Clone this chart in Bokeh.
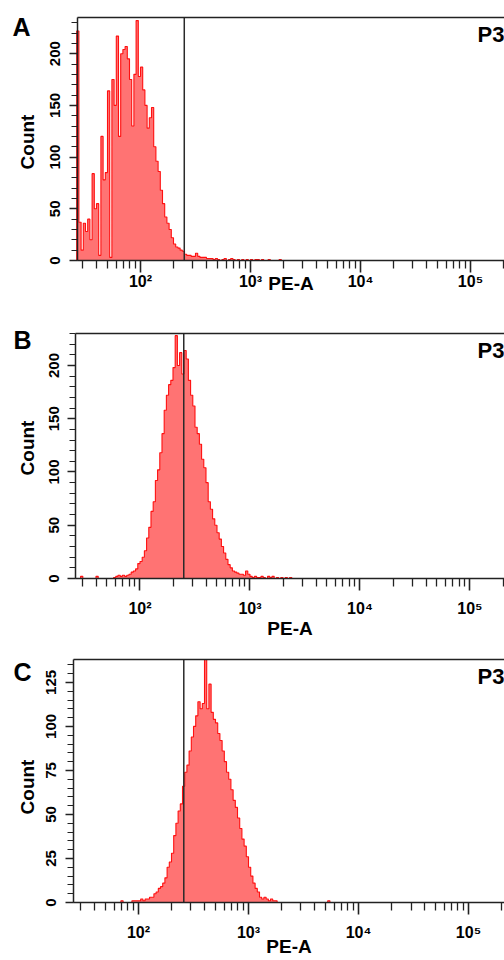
import numpy as np
from math import pi
from bokeh.plotting import figure
from bokeh.models import Range1d, FixedTicker, Label
from bokeh.layouts import column
from bokeh.embed import file_html
from bokeh.resources import INLINE

# ---------------- data ----------------
panel_letters = ["A", "B", "C"]
gate_name = "P3"
x_label = "PE-A"
y_label = "Count"

x_tick_values = [100, 1000, 10000, 100000]
x_tick_labels = ["10²", "10³", "10⁴", "10⁵"]
x_minor_ticks = [30, 40, 50, 60, 70, 80, 90,
                 200, 300, 400, 500, 600, 700, 800, 900,
                 2000, 3000, 4000, 5000, 6000, 7000, 8000, 9000,
                 20000, 30000, 40000, 50000, 60000, 70000, 80000, 90000,
                 200000]

# histogram bins: log10 start and log10 width of each bin
bin_log_start = 1.42
bin_log_step = 0.02

counts_a = [222, 37, 10, 36, 28, 40, 20, 84, 50, 55,
            5, 120, 78, 85, 164, 3, 175, 150, 217, 120,
            200, 204, 207, 195, 175, 130, 180, 232, 178, 187,
            165, 150, 128, 138, 148, 110, 96, 86, 68, 55,
            42, 36, 30, 22, 16, 13, 12, 10, 9, 6,
            5, 5, 4, 4, 7, 4, 3, 3, 3, 2,
            2, 2, 1, 2, 1, 0, 1, 2, 0, 1,
            2, 1, 0, 1, 0, 1, 0, 1, 0, 1,
            0, 1, 1, 0, 1, 0, 0, 1, 0, 0,
            0, 0, 1]

counts_b = [0, 0, 2, 0, 0, 0, 0, 0, 0, 2,
            0, 0, 0, 0, 0, 0, 0, 1, 2, 3,
            2, 3, 2, 3, 4, 6, 7, 9, 14, 16,
            20, 26, 38, 48, 63, 72, 92, 102, 118, 136,
            158, 172, 182, 186, 198, 228, 200, 212, 192, 214,
            206, 186, 172, 162, 142, 136, 126, 112, 104, 90,
            72, 65, 56, 50, 43, 37, 30, 24, 18, 13,
            10, 7, 6, 5, 4, 4, 3, 7, 4, 2,
            1, 2, 1, 1, 2, 1, 0, 2, 1, 2,
            0, 1, 0, 1, 0, 1, 0, 1]

counts_c = [0, 0, 0, 0, 0, 0, 0, 0, 0, 0,
            0, 0, 0, 0, 0, 0, 0, 0, 0, 0,
            0, 1, 0, 0, 0, 0, 1, 1, 1, 1,
            2, 1, 2, 2, 3, 3, 5, 6, 8, 9,
            11, 14, 20, 23, 28, 38, 45, 52, 56, 66,
            74, 78, 86, 94, 100, 106, 114, 110, 113, 138,
            110, 124, 108, 104, 102, 96, 92, 86, 80, 74,
            70, 64, 58, 54, 48, 42, 36, 32, 26, 20,
            15, 11, 8, 6, 3, 2, 3, 2, 1, 2,
            1, 1, 0, 0, 0, 0, 0, 0, 0, 0,
            0, 0, 0, 0, 0, 0, 0, 0, 0, 0,
            0, 0, 0, 0, 0, 1]

gate_positions = [250, 250, 258]

y_major_a = [0, 50, 100, 150, 200]
y_minor_a = [0, 10, 20, 30, 40, 50, 60, 70, 80, 90, 100, 110, 120, 130, 140,
             150, 160, 170, 180, 190, 200, 210, 220, 230]
y_major_b = [0, 50, 100, 150, 200]
y_minor_b = y_minor_a
y_major_c = [0, 25, 50, 75, 100, 125]
y_minor_c = [0, 5, 10, 15, 20, 25, 30, 35, 40, 45, 50, 55, 60, 65, 70, 75, 80,
             85, 90, 95, 100, 105, 110, 115, 120, 125, 130, 135]

y_tops = [235, 230, 138]
# log10 of: left edge of the drawing area, location of the y axis, right edge
x_log_view_starts = [0.7273, 0.7318, 0.7455]
x_log_axis = [1.427, 1.414, 1.409]
x_log_ends = [5.309, 5.314, 5.327]

# ---------------- styling/layout ----------------
FONT = "Liberation Sans"
FILL = "#ff7373"
EDGE = "#ff1010"
INK = "#222222"

# h: canvas height; top/base: pixel rows of the plot top and of zero counts
layouts = [
    dict(h=325, top=17, base=260, ts=0, xl_dy=-23, yl_dx=-50, yl_dy=-3, ldx=-65, ldy=5),
    dict(h=315, top=8, base=253, ts=9, xl_dy=-50, yl_dx=-48, yl_dy=8, ldx=-62, ldy=8),
    dict(h=320, top=19, base=262, ts=9, xl_dy=-44, yl_dx=-46, yl_dy=-6, ldx=-60, ldy=2),
]

counts_all = [counts_a, counts_b, counts_c]
y_majors = [y_major_a, y_major_b, y_major_c]
y_minors = [y_minor_a, y_minor_b, y_minor_c]


def bold_label(**kw):
    return Label(text_font=FONT, text_font_style="bold", text_color="black", **kw)


def make_panel(k):
    L = layouts[k]
    counts = np.array(counts_all[k], dtype=float)
    edges = 10 ** (bin_log_start + bin_log_step * np.arange(len(counts) + 1))
    xs = np.repeat(edges, 2)
    ys = np.concatenate([[0], np.repeat(counts, 2), [0]])

    xv = 10 ** x_log_view_starts[k]
    xa0 = 10 ** x_log_axis[k]
    x1 = 10 ** x_log_ends[k]
    xmid = 10 ** ((x_log_axis[k] + x_log_ends[k]) / 2)
    ytop = y_tops[k]
    ppc = (L["base"] - L["top"]) / ytop
    y_lo = -(L["h"] - L["base"]) / ppc
    y_hi = ytop + L["top"] / ppc

    p = figure(width=504, height=L["h"], x_axis_type="log",
               x_range=Range1d(xv, x1), y_range=Range1d(y_lo, y_hi),
               output_backend="svg", toolbar_location=None,
               min_border_left=0, min_border_right=0,
               min_border_top=0, min_border_bottom=0)
    p.outline_line_color = None
    p.grid.visible = False
    p.background_fill_color = "white"
    p.border_fill_color = "white"

    p.patch(xs, ys, fill_color=FILL, line_color=None)
    p.line(xs, ys, line_color=EDGE, line_width=1.1)

    g = gate_positions[k]
    p.segment(x0=[g], y0=[0], x1=[g], y1=[ytop], line_color="#2a2a2a", line_width=1.5)
    p.segment(x0=[xa0], y0=[ytop], x1=[x1], y1=[ytop], line_color=INK, line_width=1.5)

    # x axis at zero counts
    xa = p.xaxis[0]
    xa.fixed_location = 0
    xa.bounds = (xa0, x1)
    xa.ticker = FixedTicker(ticks=x_tick_values, minor_ticks=x_minor_ticks)
    xa.major_label_overrides = {v: s for v, s in zip(x_tick_values, x_tick_labels)}
    xa.major_label_text_font = FONT
    xa.major_label_text_font_style = "bold"
    xa.major_label_text_font_size = "16px"
    xa.major_label_text_color = "black"
    xa.major_label_standoff = L["ts"]
    xa.major_tick_in = 0
    xa.major_tick_out = 12
    xa.minor_tick_in = 0
    xa.minor_tick_out = 8
    xa.axis_line_width = 1.5
    xa.major_tick_line_width = 1.6
    xa.minor_tick_line_width = 1.3
    xa.axis_line_color = INK
    xa.major_tick_line_color = INK
    xa.minor_tick_line_color = INK

    # y axis at the left edge of the data
    ya = p.yaxis[0]
    ya.fixed_location = xa0
    ya.bounds = (0, ytop)
    ya.ticker = FixedTicker(ticks=y_majors[k], minor_ticks=y_minors[k])
    ya.major_label_text_font = FONT
    ya.major_label_text_font_style = "bold"
    ya.major_label_text_font_size = "15px"
    ya.major_label_text_color = "black"
    ya.major_label_orientation = "vertical"
    ya.major_label_standoff = 9
    ya.major_tick_in = 0
    ya.major_tick_out = 8
    ya.minor_tick_in = 0
    ya.minor_tick_out = 6
    ya.axis_line_width = 1.5
    ya.major_tick_line_width = 1.4
    ya.minor_tick_line_width = 1.2
    ya.axis_line_color = INK
    ya.major_tick_line_color = INK
    ya.minor_tick_line_color = INK

    # axis titles
    p.add_layout(bold_label(x=xmid, y=0, y_offset=L["xl_dy"], text=x_label,
                            text_font_size="19px", text_align="center",
                            text_baseline="middle"))
    p.add_layout(bold_label(x=xa0, y=ytop / 2, x_offset=L["yl_dx"], y_offset=L["yl_dy"],
                            text=y_label, angle=pi / 2, text_font_size="19px",
                            text_align="center", text_baseline="middle"))

    # panel letter and gate name
    p.add_layout(bold_label(x=xa0, y=ytop, x_offset=L["ldx"], y_offset=L["ldy"],
                            text=panel_letters[k], text_font_size="25px",
                            text_align="left", text_baseline="top"))
    p.add_layout(bold_label(x=x1, y=ytop, x_offset=0, y_offset=-4, text=gate_name,
                            text_font_size="22px", text_align="right",
                            text_baseline="top"))
    return p


panels = [make_panel(k) for k in range(3)]
layout = column(*panels, spacing=0)

open("out.html", "w").write(file_html(layout, INLINE))
